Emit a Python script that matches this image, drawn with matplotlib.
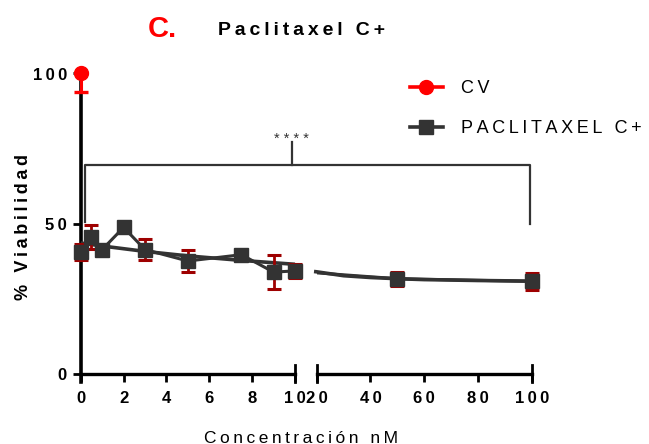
import matplotlib
matplotlib.use("Agg")
import matplotlib.pyplot as plt
from matplotlib.lines import Line2D

plt.rcParams['font.family'] = ['Liberation Sans', 'DejaVu Sans']

# Paclitaxel C+ viability (mean and error), concentration in nM
conc = [0, 0.5, 1, 2, 3, 5, 7.5, 9, 10, 50, 100]
viab = [40.6, 45.5, 41.3, 48.7, 41.3, 37.5, 39.6, 33.8, 34.2, 31.6, 30.7]
err = [2.6, 4.1, 0, 0, 3.4, 3.6, 0, 5.7, 2.4, 2.4, 2.8]

# vehicle control (CV)
cv_conc = [0]
cv_viab = [100]
cv_err_low = [6.1]
cv_err_high = [0]

# fitted decay curve for Paclitaxel C+
fit_conc = [0, 1, 2, 3, 5, 7.5, 10, 19, 20, 30, 40, 50, 60, 80, 100]
fit_viab = [43.5, 42.5, 41.6, 40.7, 39.2, 37.7, 36.4, 34.0, 33.9, 32.6, 32.0, 31.6, 31.3, 31.0, 30.8]

# broken x axis: two segments
segments = [(0, 10), (20, 100)]
xticks = [[0, 2, 4, 6, 8, 10], [20, 40, 60, 80, 100]]
yticks = [0, 50, 100]

DARK = '#333333'
ERR = '#9E0000'
RED = '#FF0000'
THIN = '\u2009'


def spaced(s, sep=THIN):
    return sep.join(s)


fig = plt.figure(figsize=(6.49, 4.44), dpi=100)
W, H = 649, 444

y_lo = -2.83
ax1 = fig.add_axes([80.7 / W, (H - 382) / H, (295 - 80.7) / W, (382 - 73.5) / H])
ax2 = fig.add_axes([316.7 / W, (H - 382) / H, (531.7 - 316.7) / W, (382 - 73.5) / H])
axes = [ax1, ax2]

for k, (ax, (lo, hi)) in enumerate(zip(axes, segments)):
    ax.set_xlim(lo, hi)
    ax.set_ylim(y_lo, 100)
    for s in ('top', 'right'):
        ax.spines[s].set_visible(False)
    ax.spines['bottom'].set_position(('data', 0))
    ax.spines['bottom'].set_linewidth(2.4)
    ax.spines['left'].set_linewidth(2.6)
    if k == 1:
        ax.spines['left'].set_visible(False)
        ax.tick_params(axis='y', left=False, labelleft=False)
    else:
        ax.set_yticks(yticks)
        ax.set_yticklabels([spaced(str(t)) for t in yticks], fontweight='bold', fontsize=12)
        ax.tick_params(axis='y', direction='out', length=6, width=2, pad=4)
    ax.set_xticks(xticks[k])
    ax.set_xticklabels([spaced(str(t)) for t in xticks[k]], fontweight='bold', fontsize=12)
    ax.tick_params(axis='x', direction='out', length=5.5, width=2, pad=7)
    ax.patch.set_visible(False)

    # end caps of each axis segment
    cap_top = (0 - y_lo) / (100 - y_lo) * 2
    ends = [hi] if k == 0 else [lo, hi]
    for e in ends:
        ax.axvline(e, ymin=0, ymax=cap_top, color='black', lw=2, clip_on=False)

    # connecting line through the means (clipped to the segment)
    ax.plot(conc, viab, color=DARK, lw=2.2, zorder=3)

    # fitted curve
    fsel = [i for i, c in enumerate(fit_conc) if lo - 1.5 <= c <= hi]
    ax.plot([fit_conc[i] for i in fsel], [fit_viab[i] for i in fsel],
            color=DARK, lw=2.6, zorder=3, clip_on=False, solid_capstyle='butt')

    sel = [i for i, c in enumerate(conc) if lo <= c <= hi]
    xs = [conc[i] for i in sel]
    ys = [viab[i] for i in sel]
    es = [err[i] for i in sel]
    eb = ax.errorbar(xs, ys, yerr=es, fmt='none', ecolor=ERR, elinewidth=2,
                     capsize=4.8, capthick=2.2, zorder=4)
    for a in eb.get_children():
        a.set_clip_on(False)
    ax.plot(xs, ys, ls='none', marker='s', ms=9.5, color=DARK, zorder=5, clip_on=False)

    csel = [i for i, c in enumerate(cv_conc) if lo <= c <= hi]
    if csel:
        cx = [cv_conc[i] for i in csel]
        cy = [cv_viab[i] for i in csel]
        eb2 = ax.errorbar(cx, cy, yerr=[[cv_err_low[i] for i in csel], [cv_err_high[i] for i in csel]],
                          fmt='none', ecolor=RED, elinewidth=2.2, capsize=5, capthick=2.4, zorder=6)
        for a in eb2.get_children():
            a.set_clip_on(False)
        ax.plot(cx, cy, ls='none', marker='o', ms=10, color=RED, zorder=7, clip_on=False)

# significance bracket spanning both segments
def to_ax1(ax, x, y):
    return ax1.transData.inverted().transform(ax.transData.transform((x, y)))

p0 = to_ax1(ax1, 0.2, 50.6)
p1 = to_ax1(ax1, 0.2, 69.5)
p2 = to_ax1(ax2, 99.4, 69.5)
p3 = to_ax1(ax2, 99.4, 50.0)
ax1.plot([p0[0], p1[0], p2[0], p3[0]], [p0[1], p1[1], p2[1], p3[1]],
         color=DARK, lw=1.6, clip_on=False, zorder=2)
ax1.plot([9.85, 9.85], [69.5, 77.3], color=DARK, lw=1.6, clip_on=False, zorder=2)
ax1.text(9.85, 77.0, spaced('****', ' '), ha='center', va='baseline', fontsize=10.5,
         color=DARK, clip_on=False)

# titles and axis labels
fig.text(162 / W, 1 - 37.3 / H, 'C.', color=RED, fontweight='bold', fontsize=21,
         ha='center', va='baseline')
fig.text(218 / W, 1 - 35 / H, spaced('Paclitaxel C+'), fontweight='bold', fontsize=14,
         ha='left', va='baseline')
fig.text(24 / W, 1 - 226.7 / H, spaced('% Viabilidad'), fontweight='bold', fontsize=13,
         rotation=90, ha='center', va='center')
fig.text(301.5 / W, 1 - 442.5 / H, spaced('Concentración nM'), fontsize=12.5,
         ha='center', va='baseline')

handles = [Line2D([], [], color=RED, marker='o', ms=10, lw=2.6),
           Line2D([], [], color=DARK, marker='s', ms=9.5, lw=2.6)]
labels = [spaced('CV'), spaced('PACLITAXEL C+')]
ax2.legend(handles, labels, loc='upper left', bbox_to_anchor=(410 / W, 1 - 80 / H),
           bbox_transform=fig.transFigure, frameon=False, fontsize=13,
           handlelength=1.8, handletextpad=1.0, labelspacing=1.28,
           borderpad=0, borderaxespad=0)

fig.savefig('out.png', dpi=100)
